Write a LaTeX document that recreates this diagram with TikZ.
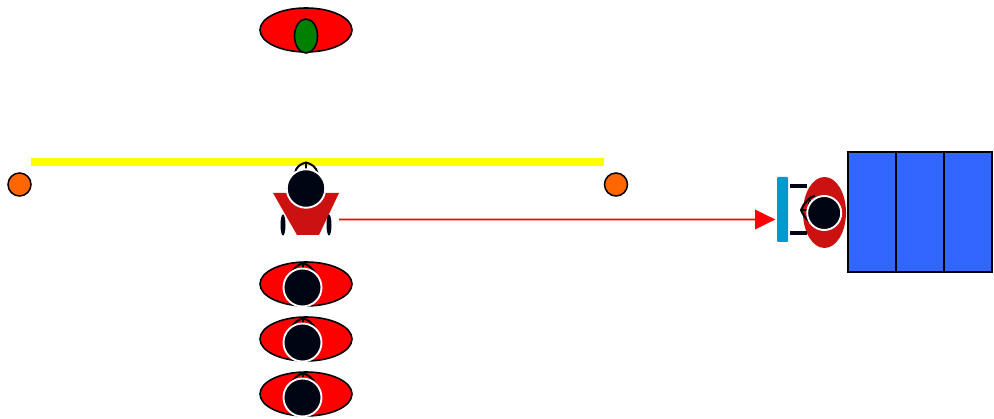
\documentclass[tikz,border=0pt]{standalone}
\usetikzlibrary{shapes.geometric,arrows.meta}
\definecolor{headblk}{HTML}{000514}
\definecolor{darkred}{HTML}{CC1111}
\definecolor{barblue}{HTML}{0099CC}
\definecolor{boxblue}{HTML}{3366FF}
\definecolor{ballor}{HTML}{FF6600}
\definecolor{leaf}{HTML}{008000}
\definecolor{pureyellow}{rgb}{1,1,0}
\definecolor{purered}{rgb}{1,0,0}
\tikzset{
  oval/.style={ellipse,draw=black,line width=1.6pt,fill=purered,minimum width=92pt,minimum height=44pt,inner sep=0pt},
  head/.style={circle,draw=white,line width=1.9pt,fill=headblk,minimum size=#1,inner sep=0pt},
  ball/.style={circle,draw=black,line width=1.5pt,fill=ballor,minimum size=23pt,inner sep=0pt},
  wheel/.style={ellipse,fill=headblk,minimum width=5pt,minimum height=21pt,inner sep=0pt},
  cell/.style={rectangle,draw=black,line width=1.5pt,fill=boxblue,minimum width=48pt,minimum height=120pt,inner sep=0pt},
  helmet/.style={draw=black,line width=2pt},
  pad/.style={rectangle,fill=headblk,minimum width=17pt,minimum height=4.5pt,inner sep=0pt}
}
\begin{document}
\begin{tikzpicture}[x=1pt,y=-1pt]
\useasboundingbox (0,0) rectangle (994,419);
\node[oval] (top) at (306,30) {};
\node[ellipse,draw=black,line width=1.6pt,fill=leaf,minimum width=23pt,minimum height=34pt,inner sep=0pt] (leafo) at (306,36) {};
\node[rectangle,fill=pureyellow,minimum width=573pt,minimum height=7.7pt,inner sep=0pt] (bar) at (317.5,162) {};
\node[ball] (ballL) at (19.5,184.5) {};
\node[ball] (ballR) at (616,184.5) {};
% front rider
\fill[darkred] (273,193) -- (339,193) -- (319,235) -- (297,235) -- cycle;
\node[wheel] (w1) at (283,225) {};
\node[wheel] (w2) at (329,225) {};
\draw[helmet] (295,173) .. controls (296,167) and (300,164) .. (306,162.5) .. controls (312,164) and (316,167) .. (317.5,173);
\draw[helmet] (306,162) -- (306,171);
\node[head=38.5pt] (h0) at (306,188.5) {};
% lower riders
\foreach \n/\y in {a/284,b/339,c/394}{
  \node[oval] (o\n) at (306,\y) {};
  \draw[helmet] (290,\y-9) .. controls (293,\y-16) and (298,\y-19) .. (303,\y-21) .. controls (308,\y-19) and (313,\y-16) .. (316,\y-9);
  \draw[helmet] (303,\y-22) -- (303,\y-12);
  \node[head=38pt] (h\n) at (302.5,\y+3.5) {};
}
% side rider
\node[ellipse,fill=darkred,minimum width=43pt,minimum height=71pt,inner sep=0pt] (side) at (824.5,212.5) {};
\node[pad] (p1) at (798.5,186) {};
\node[pad] (p2) at (798.5,233) {};
\draw[helmet] (815,195.7) .. controls (809,197) and (804,203) .. (801,210) .. controls (804,217) and (808,222) .. (814,223.5);
\draw[helmet] (801,210) -- (810,210);
\draw[helmet] (810,200) .. controls (808,206) and (808,215) .. (810,221);
\node[head=34pt] (hs) at (824.2,213) {};
\node[rectangle,rounded corners=1pt,fill=barblue,minimum width=11pt,minimum height=65pt,inner sep=0pt] (shield) at (782.5,209.5) {};
% box
\node[cell] (c1) at (872,212) {};
\node[cell] (c2) at (920,212) {};
\node[cell] (c3) at (968,212) {};
% arrow drawn as one filled outline, from the start point to the shield
\coordinate (start) at (339,219.5);
\path[fill=purered] (339,218.6) -- (755,218.6) -- (755,209.5) -- ([xshift=-1.5pt]shield.west |- start) -- (755,229.5) -- (755,220.4) -- (339,220.4) -- cycle;
\end{tikzpicture}
\end{document}
